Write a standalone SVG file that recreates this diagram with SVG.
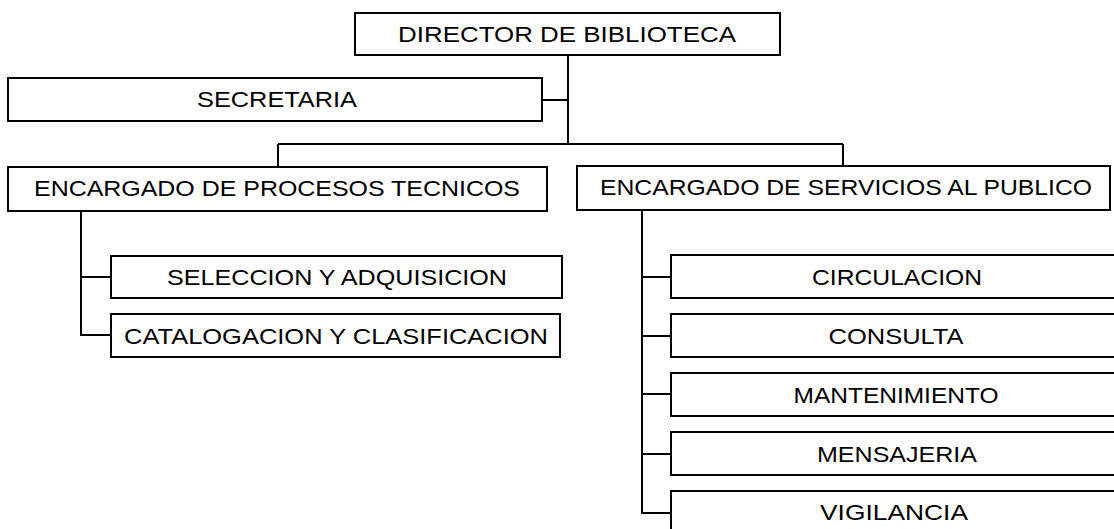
<svg xmlns="http://www.w3.org/2000/svg" width="1114" height="529" viewBox="0 0 1114 529">
<style>
.box{fill:#fff;stroke:#000;stroke-width:2}
.lbl{font-family:"Liberation Sans",Arial,sans-serif;font-size:22px;fill:#000;text-anchor:middle}
.con{fill:none;stroke:#000;stroke-width:2}
</style>
<rect width="1114" height="529" fill="#fff"/>
<g id="connectors">
<path class="con" d="M568 55V144M542 100H568M278 144H843M278 144V167M843 144V166"/>
<path class="con" d="M81 211V335H111M81 277H111"/>
<path class="con" d="M642 210V513H671M642 277H671M642 336H671M642 394H671M642 454H671"/>
</g>
<g id="director"><rect class="box" x="355" y="13" width="425" height="42"/><text class="lbl" x="567" y="42" textLength="338" lengthAdjust="spacingAndGlyphs">DIRECTOR DE BIBLIOTECA</text></g>
<g id="secretaria"><rect class="box" x="8" y="78" width="534" height="43"/><text class="lbl" x="277" y="107" textLength="160" lengthAdjust="spacingAndGlyphs">SECRETARIA</text></g>
<g id="procesos"><rect class="box" x="8" y="167" width="539" height="44"/><text class="lbl" x="277" y="196" textLength="486" lengthAdjust="spacingAndGlyphs">ENCARGADO DE PROCESOS TECNICOS</text></g>
<g id="servicios"><rect class="box" x="577" y="166" width="533" height="44"/><text class="lbl" x="846" y="195" textLength="492" lengthAdjust="spacingAndGlyphs">ENCARGADO DE SERVICIOS AL PUBLICO</text></g>
<g id="seleccion"><rect class="box" x="111" y="256" width="451" height="42"/><text class="lbl" x="337" y="285" textLength="340" lengthAdjust="spacingAndGlyphs">SELECCION Y ADQUISICION</text></g>
<g id="catalogacion"><rect class="box" x="111" y="314" width="449" height="43"/><text class="lbl" x="336" y="344" textLength="424" lengthAdjust="spacingAndGlyphs">CATALOGACION Y CLASIFICACION</text></g>
<g id="circulacion"><rect class="box" x="671" y="255" width="460" height="43"/><text class="lbl" x="897" y="285" textLength="170" lengthAdjust="spacingAndGlyphs">CIRCULACION</text></g>
<g id="consulta"><rect class="box" x="671" y="314" width="460" height="43"/><text class="lbl" x="896" y="344" textLength="135" lengthAdjust="spacingAndGlyphs">CONSULTA</text></g>
<g id="mantenimiento"><rect class="box" x="671" y="373" width="460" height="43"/><text class="lbl" x="896" y="403" textLength="205" lengthAdjust="spacingAndGlyphs">MANTENIMIENTO</text></g>
<g id="mensajeria"><rect class="box" x="671" y="432" width="460" height="43"/><text class="lbl" x="897" y="462" textLength="160" lengthAdjust="spacingAndGlyphs">MENSAJERIA</text></g>
<g id="vigilancia"><rect class="box" x="671" y="491" width="460" height="60"/><text class="lbl" x="894" y="520" textLength="148" lengthAdjust="spacingAndGlyphs">VIGILANCIA</text></g>
</svg>
